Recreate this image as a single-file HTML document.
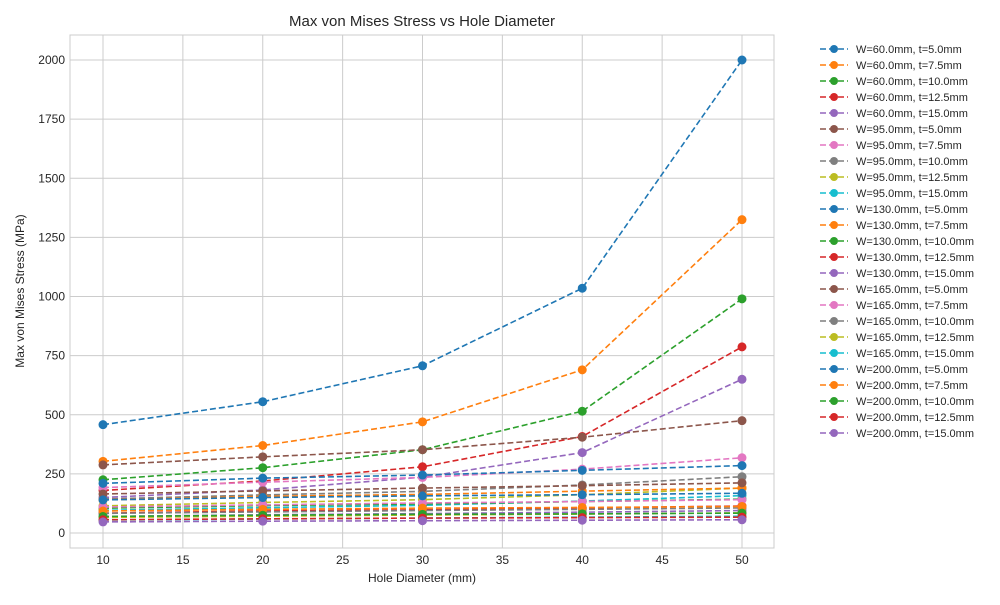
<!DOCTYPE html>
<html><head><meta charset="utf-8">
<style>
body{margin:0;background:#fff;font-family:"Liberation Sans",sans-serif;}
svg text{font-family:"Liberation Sans",sans-serif;fill:#262626;}
</style></head>
<body>
<svg id="chart" width="1000" height="600">
<text x="422" y="26" font-size="15" text-anchor="middle">Max von Mises Stress vs Hole Diameter</text>
<g id="grid"></g>
<rect x="70" y="35" width="704" height="513" fill="none" stroke="#cccccc" stroke-width="1"/>
<g id="series"></g>
<g id="legend"></g>
<text x="422" y="582" font-size="12" text-anchor="middle">Hole Diameter (mm)</text>
<text x="24" y="291" font-size="12" text-anchor="middle" transform="rotate(-90 24 291)">Max von Mises Stress (MPa)</text>
</svg>
<script>
const diameters=[10,20,30,40,50];
const xTicks=[10,15,20,25,30,35,40,45,50];
const yTicks=[0,250,500,750,1000,1250,1500,1750,2000];
const seriesLabels=["W=60.0mm, t=5.0mm","W=60.0mm, t=7.5mm","W=60.0mm, t=10.0mm","W=60.0mm, t=12.5mm","W=60.0mm, t=15.0mm","W=95.0mm, t=5.0mm","W=95.0mm, t=7.5mm","W=95.0mm, t=10.0mm","W=95.0mm, t=12.5mm","W=95.0mm, t=15.0mm","W=130.0mm, t=5.0mm","W=130.0mm, t=7.5mm","W=130.0mm, t=10.0mm","W=130.0mm, t=12.5mm","W=130.0mm, t=15.0mm","W=165.0mm, t=5.0mm","W=165.0mm, t=7.5mm","W=165.0mm, t=10.0mm","W=165.0mm, t=12.5mm","W=165.0mm, t=15.0mm","W=200.0mm, t=5.0mm","W=200.0mm, t=7.5mm","W=200.0mm, t=10.0mm","W=200.0mm, t=12.5mm","W=200.0mm, t=15.0mm"];
const s01=[458,555,707,1035,2000];
const s02=[303,370,470,690,1325];
const s03=[225,276,352,515,990];
const s04=[180,220,280,408,787];
const s05=[150,182,236,340,650];
const s06=[288,322,352,405,475];
const s07=[192,215,235,270,318];
const s08=[144,161,176,203,238];
const s09=[115,129,141,162,190];
const s10=[96,107,117,135,158];
const s11=[210,232,245,265,285];
const s12=[140,155,163,177,190];
const s13=[105,116,123,133,143];
const s14=[84,93,98,106,114];
const s15=[70,77,82,88,95];
const s16=[165,178,190,200,212];
const s17=[110,119,127,133,141];
const s18=[83,89,95,100,106];
const s19=[66,71,76,80,85];
const s20=[55,59,63,67,71];
const s21=[140,150,157,162,168];
const s22=[93,100,105,108,112];
const s23=[70,75,79,81,84];
const s24=[56,60,63,65,67];
const s25=[47,50,52,54,56];
const seriesValues=[s01,s02,s03,s04,s05,s06,s07,s08,s09,s10,s11,s12,s13,s14,s15,s16,s17,s18,s19,s20,s21,s22,s23,s24,s25];
const colors=["#1f77b4","#ff7f0e","#2ca02c","#d62728","#9467bd","#8c564b","#e377c2","#7f7f7f","#bcbd22","#17becf"];
const NS="http://www.w3.org/2000/svg";
const X=v=>103+(v-10)*(742-103)/40;
const Y=v=>533-v*(533-60)/2000;
function mk(t,a,p){const e=document.createElementNS(NS,t);for(const k in a)e.setAttribute(k,a[k]);p.appendChild(e);return e;}
const grid=document.getElementById('grid');
xTicks.forEach(t=>{
  const l=mk('line',{x1:X(t),x2:X(t),y1:35,y2:548,stroke:'#cccccc','stroke-width':1},grid);
  
  
  const tx=mk('text',{x:X(t),y:564,'font-size':12,'text-anchor':'middle'},grid);
  tx.textContent=t;
  
  
});
yTicks.forEach(t=>{
  const l=mk('line',{x1:70,x2:774,y1:Y(t),y2:Y(t),stroke:'#cccccc','stroke-width':1},grid);
  
  
  const tx=mk('text',{x:65,y:Y(t)+4,'font-size':12,'text-anchor':'end'},grid);
  tx.textContent=t;
  
  
});
const sg=document.getElementById('series'),lg=document.getElementById('legend');
seriesValues.forEach((vals,i)=>{
  const c=colors[i%10];
  const g=mk('g',{},sg);
  
  
  const pl=mk('polyline',{points:vals.map((v,j)=>X(diameters[j])+','+Y(v)).join(' '),fill:'none',stroke:c,'stroke-width':1.6,'stroke-dasharray':'6,3'},g);
  
  
  vals.forEach((v,j)=>{
    const p=mk('circle',{cx:X(diameters[j]),cy:Y(v),r:4.5,fill:c},g);
    
    
  });
  const ly=49+i*16;
  const le=mk('g',{},lg);
  
  
  mk('line',{x1:820,x2:848,y1:ly,y2:ly,stroke:c,'stroke-width':1.6,'stroke-dasharray':'6,3'},le);
  mk('circle',{cx:834,cy:ly,r:4,fill:c},le);
  const t=mk('text',{x:856,y:ly+4,'font-size':11},le);
  t.textContent=seriesLabels[i];
});
</script>
</body></html>
